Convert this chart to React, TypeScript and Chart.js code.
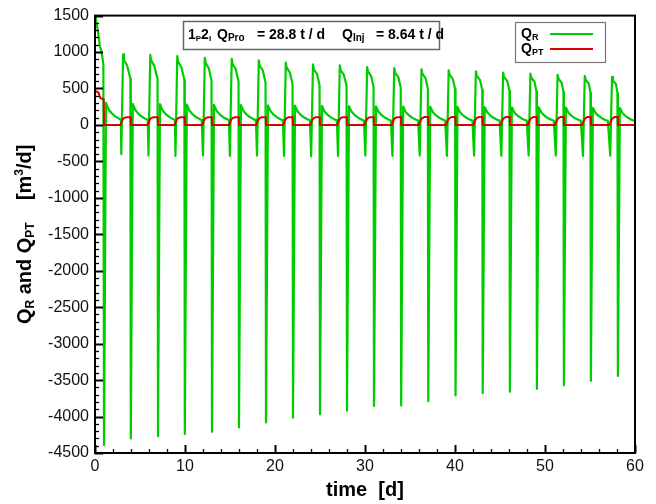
import React, { useEffect, useRef } from "react";
import { Chart, registerables } from "chart.js";

Chart.register(...registerables);

const FONT = "'Liberation Sans', Arial, Helvetica, sans-serif";

// ---- axes ----
const xRange = [0, 60];
const yRange = [-4500, 1500];
const xMajorStep = 10;
const xMinorStep = 2;
const yMajorStep = 500;
const yMinorStep = 100;

// ---- initial transient (t in d, values in m3/d) ----
const qrStartT = [0, 0.1, 0.3, 0.55, 0.75, 0.93];
const qrStartV = [1500, 1450, 1300, 1080, 990, 830];
const qptStartT = [0, 0.15, 0.4, 0.5, 0.6, 0.97];
const qptStartV = [450, 462, 445, 400, 368, 350];

// ---- Q_R cycles ----
const spikeT = [1.0, 3.98, 7.0, 9.98, 13.0, 16.0, 19.0, 22.0, 25.0, 28.0, 31.0, 34.02, 37.03, 40.06, 43.08, 46.1, 49.1, 52.1, 55.1, 58.1];
const spikeMin = [-4390, -4300, -4270, -4240, -4210, -4150, -4080, -4015, -3970, -3920, -3855, -3850, -3790, -3710, -3680, -3660, -3620, -3570, -3510, -3445];
const recoveryOffsets = [0.22, 0.5, 0.85, 1.25, 1.6, 1.88];
const smallPeak = [304, 290, 285, 280, 276, 272, 268, 265, 262, 258, 255, 252, 250, 247, 245, 242, 240, 238, 235, 232];
const decay1 = [215, 205, 201, 198, 195, 192, 190, 188, 185, 183, 181, 179, 177, 175, 173, 171, 170, 168, 166, 164];
const decay2 = [160, 152, 149, 147, 145, 143, 141, 139, 137, 136, 134, 133, 131, 130, 129, 128, 126, 125, 124, 122];
const decay3 = [118, 112, 110, 108, 106, 105, 103, 102, 101, 99, 98, 97, 96, 95, 94, 93, 92, 91, 90, 89];
const decay4 = [90, 86, 84, 83, 81, 80, 79, 78, 77, 76, 75, 75, 74, 73, 72, 71, 71, 70, 69, 68];
const decay5 = [72, 70, 69, 68, 67, 66, 65, 64, 63, 62, 62, 61, 60, 60, 59, 59, 58, 58, 57, 56];
const smallDip = [-400, -420, -425, -420, -425, -420, -425, -430, -425, -420, -425, -420, -425, -420, -425, -420, -420, -425, -420];
const bigPeakT = [3.12, 6.14, 9.14, 12.2, 15.19, 18.2, 21.2, 24.22, 27.2, 30.24, 33.25, 36.28, 39.3, 42.32, 45.35, 48.38, 51.4, 54.42, 57.45];
const bigPeak = [968, 963, 945, 922, 908, 886, 854, 830, 818, 795, 781, 763, 750, 736, 717, 704, 688, 672, 659];
const bigShoulder = [890, 886, 869, 848, 835, 815, 786, 764, 753, 731, 719, 702, 690, 677, 660, 648, 633, 618, 606];
const bigMid = [815, 810, 795, 776, 764, 745, 718, 698, 688, 669, 657, 642, 631, 619, 603, 592, 579, 565, 554];
const preDrop = [636, 632, 620, 605, 596, 582, 561, 545, 537, 522, 513, 501, 492, 483, 471, 462, 452, 441, 433];

// ---- Q_PT bumps ----
const qptRiseOffsets = [-0.27, -0.15, -0.03, 0.1];
const qptRise = [0, 48, 78, 94];
const qptTop = [104, 104, 105, 105, 105, 106, 106, 106, 107, 107, 107, 108, 108, 108, 109, 109, 109, 110, 110];

const GREEN = "#00cc00";
const RED = "#dd0000";

type P = { x: number; y: number };

function buildQR(): P[] {
  const pts: P[] = qrStartT.map((t, i) => ({ x: t, y: qrStartV[i] }));
  for (let k = 0; k < spikeT.length; k++) {
    const tA = spikeT[k];
    if (k > 0) pts.push({ x: tA - 0.05, y: preDrop[k - 1] });
    pts.push({ x: tA, y: spikeMin[k] });
    const rec = [smallPeak[k], decay1[k], decay2[k], decay3[k], decay4[k], decay5[k]];
    recoveryOffsets.forEach((o, j) => pts.push({ x: tA + o, y: rec[j] }));
    if (k < bigPeakT.length) {
      const p = bigPeakT[k];
      pts.push({ x: p - 0.2, y: smallDip[k] });
      pts.push({ x: p, y: bigPeak[k] });
      pts.push({ x: p + 0.1, y: bigShoulder[k] });
      pts.push({ x: p + 0.45, y: bigMid[k] });
    }
  }
  return pts;
}

function buildQPT(): P[] {
  const pts: P[] = qptStartT.map((t, i) => ({ x: t, y: qptStartV[i] }));
  for (let k = 0; k < spikeT.length; k++) {
    const tA = spikeT[k];
    if (k > 0) pts.push({ x: tA - 0.02, y: qptTop[k - 1] });
    pts.push({ x: tA, y: 0 });
    if (k < bigPeakT.length) {
      const p = bigPeakT[k];
      qptRiseOffsets.forEach((o, j) => pts.push({ x: p + o, y: qptRise[j] }));
      pts.push({ x: p + 0.3, y: qptTop[k] });
    }
  }
  pts.push({ x: xRange[1], y: 0 });
  return pts;
}

type Seg = { t: string; f: string; dy?: number; x?: number };

function drawSegs(ctx: CanvasRenderingContext2D, segs: Seg[], x: number, y: number, center: boolean) {
  let total = 0;
  const widths = segs.map((s) => {
    ctx.font = s.f;
    const w = ctx.measureText(s.t).width;
    total += w;
    return w;
  });
  let cx = center ? x - total / 2 : x;
  ctx.textAlign = "left";
  ctx.textBaseline = "alphabetic";
  segs.forEach((s, i) => {
    ctx.font = s.f;
    if (s.x !== undefined) cx = s.x;
    ctx.fillText(s.t, cx, y + (s.dy || 0));
    cx += widths[i];
  });
}

const decorPlugin = {
  id: "decor",
  afterDraw(chart: any) {
    const { ctx, chartArea: a, scales } = chart;
    const xs = scales.x;
    const ys = scales.y;
    ctx.save();
    ctx.strokeStyle = "#000";
    // ticks (inward)
    for (let v = yRange[0]; v <= yRange[1]; v += yMinorStep) {
      const py = Math.round(ys.getPixelForValue(v)) + 0.5;
      const major = v % yMajorStep === 0;
      ctx.lineWidth = major ? 2 : 1.3;
      ctx.beginPath();
      ctx.moveTo(a.left, py);
      ctx.lineTo(a.left + (major ? 8 : 4), py);
      ctx.stroke();
    }
    for (let v = xRange[0]; v <= xRange[1]; v += xMinorStep) {
      const px = Math.round(xs.getPixelForValue(v)) + 0.5;
      const major = v % xMajorStep === 0;
      ctx.lineWidth = major ? 2 : 1.3;
      ctx.beginPath();
      ctx.moveTo(px, a.bottom);
      ctx.lineTo(px, a.bottom - (major ? 8 : 4));
      ctx.stroke();
    }
    // frame
    ctx.lineWidth = 2;
    ctx.strokeRect(a.left, a.top, a.right - a.left, a.bottom - a.top);

    ctx.fillStyle = "#000";
    // x title
    drawSegs(ctx, [{ t: "time  [d]", f: `bold 20px ${FONT}` }], (a.left + a.right) / 2, 496, true);

    // y title (rotated)
    const b20 = `bold 20px ${FONT}`;
    const b12 = `bold 12px ${FONT}`;
    ctx.save();
    ctx.translate(31, (a.top + a.bottom) / 2);
    ctx.rotate(-Math.PI / 2);
    drawSegs(
      ctx,
      [
        { t: "Q", f: b20 },
        { t: "R", f: b12, dy: 3 },
        { t: " and Q", f: b20 },
        { t: "PT", f: b12, dy: 3 },
        { t: "    [m", f: b20 },
        { t: "3", f: b12, dy: -8 },
        { t: "/d]", f: b20 },
      ],
      0,
      0,
      true
    );
    ctx.restore();

    // annotation box
    ctx.fillStyle = "#fff";
    ctx.fillRect(183.5, 21.5, 256, 28);
    ctx.strokeStyle = "#666";
    ctx.lineWidth = 1.5;
    ctx.strokeRect(183.5, 21.5, 256, 28);
    ctx.fillStyle = "#000";
    const b14 = `bold 14px ${FONT}`;
    const b10 = `bold 10px ${FONT}`;
    const b8 = `bold 8px ${FONT}`;
    drawSegs(
      ctx,
      [
        { t: "1", f: b14, x: 188 },
        { t: "P", f: b8, dy: 2 },
        { t: "2", f: b14 },
        { t: "I", f: b8, dy: 2 },
        { t: "Q", f: b14, x: 217 },
        { t: "Pro", f: b10, dy: 2 },
        { t: "= 28.8 t / d", f: b14, x: 257 },
        { t: "Q", f: b14, x: 342 },
        { t: "Inj", f: b10, dy: 2 },
        { t: "= 8.64 t / d", f: b14, x: 376 },
      ],
      0,
      38.5,
      false
    );

    // legend
    ctx.fillStyle = "#fff";
    ctx.fillRect(515.5, 22.5, 90, 40);
    ctx.strokeStyle = "#777";
    ctx.lineWidth = 1.2;
    ctx.strokeRect(515.5, 22.5, 90, 40);
    ctx.fillStyle = "#000";
    const b9 = `bold 9px ${FONT}`;
    const ds = chart.data.datasets;
    drawSegs(ctx, [{ t: "Q", f: b14 }, { t: "R", f: b9, dy: 2 }], 521, 38, false);
    drawSegs(ctx, [{ t: "Q", f: b14 }, { t: "PT", f: b9, dy: 2 }], 521, 53, false);
    ctx.lineWidth = 2;
    ctx.strokeStyle = ds[1].borderColor;
    ctx.beginPath();
    ctx.moveTo(550, 34);
    ctx.lineTo(593, 34);
    ctx.stroke();
    ctx.strokeStyle = ds[0].borderColor;
    ctx.beginPath();
    ctx.moveTo(550, 49);
    ctx.lineTo(593, 49);
    ctx.stroke();
    ctx.restore();
  },
};

export default function App() {
  const ref = useRef<HTMLCanvasElement>(null);
  useEffect(() => {
    if (!ref.current) return;
    const chart = new Chart(ref.current, {
      type: "line",
      data: {
        datasets: [
          {
            label: "Q_PT",
            data: buildQPT(),
            borderColor: RED,
            borderWidth: 2,
            pointRadius: 0,
            tension: 0,
            fill: false,
            borderJoinStyle: "round",
          },
          {
            label: "Q_R",
            data: buildQR(),
            borderColor: GREEN,
            borderWidth: 2.2,
            pointRadius: 0,
            tension: 0,
            fill: false,
            borderJoinStyle: "round",
          },
        ],
      },
      options: {
        animation: false,
        responsive: false,
        events: [],
        layout: { padding: { left: 0, right: 21, top: 13, bottom: 0 } },
        plugins: { legend: { display: false }, tooltip: { enabled: false }, title: { display: false } },
        scales: {
          x: {
            type: "linear",
            min: xRange[0],
            max: xRange[1],
            grid: { display: false, drawTicks: false },
            border: { display: false },
            ticks: {
              stepSize: xMajorStep,
              padding: 4,
              color: "#111",
              font: { family: FONT, size: 16 },
              maxRotation: 0,
              autoSkip: false,
              callback: (v: any) => String(v),
            },
            afterFit: (s: any) => {
              s.height = 51;
            },
          },
          y: {
            type: "linear",
            min: yRange[0],
            max: yRange[1],
            grid: { display: false, drawTicks: false },
            border: { display: false },
            ticks: {
              stepSize: yMajorStep,
              padding: 6,
              color: "#111",
              font: { family: FONT, size: 16 },
              autoSkip: false,
              callback: (v: any) => String(v),
            },
            afterFit: (s: any) => {
              s.width = 95;
            },
          },
        },
      },
      plugins: [decorPlugin],
    } as any);
    return () => chart.destroy();
  }, []);
  return (
    <div style={{ position: "fixed", left: 0, top: 0, width: 656, height: 504, background: "#fff" }}>
      <canvas ref={ref} width={656} height={504} style={{ display: "block" }} />
    </div>
  );
}
